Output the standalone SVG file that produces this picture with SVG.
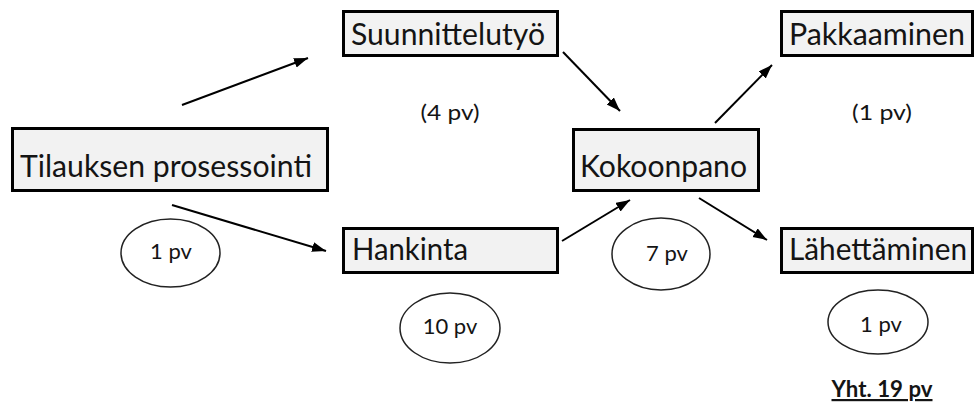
<svg xmlns="http://www.w3.org/2000/svg" width="974" height="409" viewBox="0 0 974 409">
<style>
.box{fill:#f2f2f2;stroke:#000;stroke-width:3}
.lbl{font-family:Lato,"Open Sans",sans-serif;font-size:31px;fill:#141414}
.sm{font-family:Lato,"Open Sans",sans-serif;font-size:22px;fill:#141414;text-anchor:middle}
.ell{fill:#fff;stroke:#222;stroke-width:1.5}
.con{stroke:#000;stroke-width:2;fill:none;marker-end:url(#ah)}
</style>
<defs>
<marker id="ah" markerUnits="userSpaceOnUse" markerWidth="16" markerHeight="12" refX="14" refY="5" orient="auto">
<path d="M0,0 L14,5 L0,10 z" fill="#000"/>
</marker>
</defs>
<rect width="974" height="409" fill="#fff"/>
<g id="connectors">
<line class="con" x1="182" y1="105" x2="308" y2="58"/>
<line class="con" x1="172" y1="205" x2="326" y2="251"/>
<line class="con" x1="563" y1="52" x2="620" y2="111"/>
<line class="con" x1="562" y1="241" x2="630" y2="200"/>
<line class="con" x1="715" y1="123" x2="772" y2="65"/>
<line class="con" x1="699" y1="198" x2="767" y2="240"/>
</g>
<g id="tilauksen">
<rect class="box" x="12.5" y="128.5" width="315" height="62"/>
<text class="lbl" x="20" y="177" textLength="292" lengthAdjust="spacingAndGlyphs">Tilauksen prosessointi</text>
</g>
<g id="suunnittelu">
<rect class="box" x="343.5" y="11.5" width="214" height="44"/>
<text class="lbl" x="351" y="45" textLength="194" lengthAdjust="spacingAndGlyphs">Suunnittelutyö</text>
</g>
<g id="hankinta">
<rect class="box" x="343.5" y="228.5" width="214" height="44"/>
<text class="lbl" x="352" y="260" textLength="116" lengthAdjust="spacingAndGlyphs">Hankinta</text>
</g>
<g id="kokoonpano">
<rect class="box" x="573.5" y="129.5" width="185" height="61"/>
<text class="lbl" x="580" y="177" textLength="167" lengthAdjust="spacingAndGlyphs">Kokoonpano</text>
</g>
<g id="pakkaaminen">
<rect class="box" x="781.5" y="11.5" width="191" height="44"/>
<text class="lbl" x="789" y="45" textLength="176" lengthAdjust="spacingAndGlyphs">Pakkaaminen</text>
</g>
<g id="lahettaminen">
<rect class="box" x="781.5" y="228.5" width="191" height="44"/>
<text class="lbl" x="789" y="260" textLength="178" lengthAdjust="spacingAndGlyphs">Lähettäminen</text>
</g>
<g id="d4">
<text class="sm" x="450" y="120" textLength="59" lengthAdjust="spacingAndGlyphs">(4 pv)</text>
</g>
<g id="d1a">
<text class="sm" x="882" y="120" textLength="60" lengthAdjust="spacingAndGlyphs">(1 pv)</text>
</g>
<g id="e1">
<ellipse class="ell" cx="170.5" cy="253" rx="49.5" ry="34"/>
<text class="sm" x="171" y="259">1 pv</text>
</g>
<g id="e10">
<ellipse class="ell" cx="450" cy="328" rx="50" ry="35"/>
<text class="sm" x="450" y="334">10 pv</text>
</g>
<g id="e7">
<ellipse class="ell" cx="661" cy="254" rx="49" ry="36"/>
<text class="sm" x="667" y="261">7 pv</text>
</g>
<g id="e1b">
<ellipse class="ell" cx="878" cy="322" rx="50" ry="32"/>
<text class="sm" x="881" y="332">1 pv</text>
</g>
<g id="total">
<text class="sm" x="882" y="397" style="font-weight:bold;text-decoration:underline" textLength="101" lengthAdjust="spacingAndGlyphs">Yht. 19 pv</text>
</g>
</svg>
